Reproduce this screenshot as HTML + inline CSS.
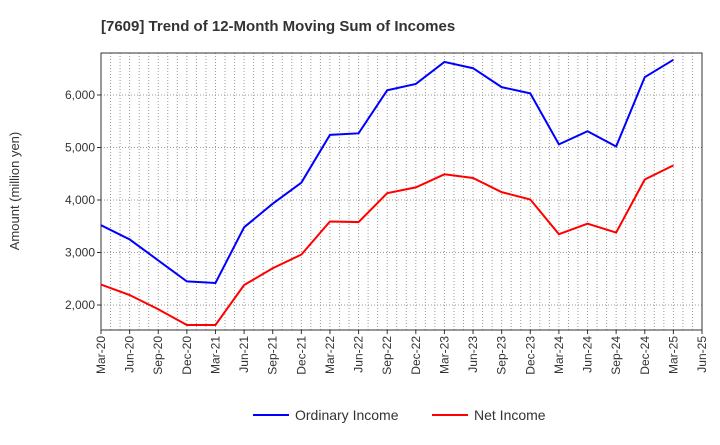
<!DOCTYPE html>
<html><head><meta charset="utf-8"><style>
body{margin:0;background:#fff;font-family:"Liberation Sans",sans-serif}
text{font-family:"Liberation Sans",sans-serif}
</style></head><body>
<svg id="c" width="720" height="440"></svg>
<script>
const categories=["Mar-20","Jun-20","Sep-20","Dec-20","Mar-21","Jun-21","Sep-21","Dec-21","Mar-22","Jun-22","Sep-22","Dec-22","Mar-23","Jun-23","Sep-23","Dec-23","Mar-24","Jun-24","Sep-24","Dec-24","Mar-25","Jun-25"];
const ordinaryIncome=[3520,3250,2850,2450,2420,3480,3930,4330,5240,5270,6090,6210,6630,6510,6150,6030,5060,5310,5020,6340,6670];
const netIncome=[2390,2190,1920,1620,1620,2380,2700,2960,3590,3580,4130,4240,4490,4420,4150,4010,3350,3550,3380,4390,4660];
const yTicks=[2000,3000,4000,5000,6000];
const L=101,R=702,T=53,B=330,yMin=1524,yMax=6800;
const ns="http://www.w3.org/2000/svg",svg=document.getElementById('c');
const step=(R-L)/(categories.length-1);
const x=i=>L+i*step, y=v=>B-(v-yMin)/(yMax-yMin)*(B-T);
function mk(t,a,p){const e=document.createElementNS(ns,t);for(const k in a)e.setAttribute(k,a[k]);(p||svg).appendChild(e);return e;}
const title=mk('text',{x:101,y:31,'font-size':15,'font-weight':'bold',fill:'#333'});


title.textContent="[7609]  Trend of 12-Month Moving Sum of Incomes";
const grid=mk('g',{});


for(let m=1;m<(categories.length-1)*3;m++){const xx=L+m*step/3;mk('line',{x1:xx,x2:xx,y1:T,y2:B,stroke:'#999','stroke-dasharray':'1,2','stroke-width':1},grid);}
yTicks.forEach(v=>{mk('line',{x1:L,x2:R,y1:y(v),y2:y(v),stroke:'#999','stroke-dasharray':'1,2'},grid);
const t=mk('text',{x:L-6,y:y(v)+4,'text-anchor':'end','font-size':12,fill:'#333'});


t.textContent=v.toLocaleString('en-US');
mk('line',{x1:L-4,x2:L,y1:y(v),y2:y(v),stroke:'#333'});});
categories.forEach((c,i)=>{mk('line',{x1:x(i),x2:x(i),y1:B,y2:B+4,stroke:'#333'});
const t=mk('text',{transform:`translate(${x(i)+4},${B+6}) rotate(-90)`,'text-anchor':'end','font-size':12,fill:'#333'});


t.textContent=c;});
const frame=mk('rect',{x:L,y:T,width:R-L,height:B-T,fill:'none',stroke:'#333'});


const yt=mk('text',{transform:'translate(19,191) rotate(-90)','text-anchor':'middle','font-size':13,fill:'#333'});


yt.textContent="Amount (million yen)";
function line(d,col,name){const p=mk('polyline',{points:d.map((v,i)=>x(i)+','+y(v)).join(' '),fill:'none',stroke:col,'stroke-width':2});

}
line(ordinaryIncome,'#0000ff','ordinary-income-line');
line(netIncome,'#ff0000','net-income-line');
function leg(lx,col,label,name){const g=mk('g',{});


mk('line',{x1:lx,x2:lx+36,y1:415,y2:415,stroke:col,'stroke-width':2},g);
const t=mk('text',{x:lx+42,y:420,'font-size':14,fill:'#333'},g);t.textContent=label;}
leg(253,'#0000ff','Ordinary Income','legend-ordinary-income');
leg(432,'#ff0000','Net Income','legend-net-income');
</script>
</body></html>
